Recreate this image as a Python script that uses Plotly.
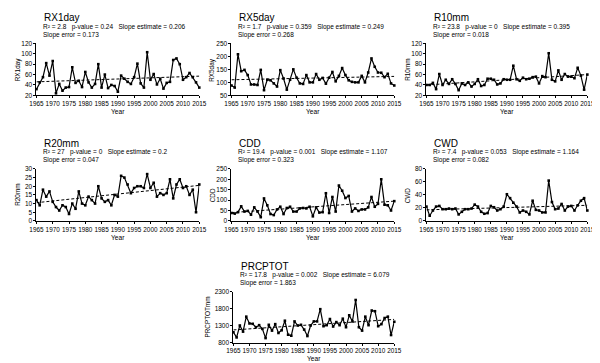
import plotly.graph_objects as go

years = list(range(1965, 2016))

rx1day = [32, 45, 55, 82, 58, 86, 24, 42, 29, 35, 36, 74, 44, 48, 36, 65, 45, 35, 42, 80,
          35, 60, 34, 40, 38, 27, 58, 52, 46, 42, 55, 81, 43, 35, 103, 50, 61, 41, 52, 33,
          44, 46, 88, 91, 80, 50, 55, 63, 55, 45, 35]
rx5day = [88, 80, 208, 143, 148, 128, 92, 92, 90, 148, 70, 110, 108, 96, 84, 147, 115, 72, 110, 150,
          118, 96, 94, 128, 100, 100, 132, 110, 117, 95, 118, 140, 104, 125, 155, 128, 108, 102, 100, 100,
          125, 100, 138, 192, 160, 138, 137, 120, 133, 96, 88]
r10mm = [40, 40, 44, 32, 61, 40, 50, 42, 51, 42, 30, 43, 40, 45, 37, 42, 51, 38, 40, 52,
         52, 50, 41, 43, 51, 50, 50, 77, 51, 48, 54, 51, 52, 55, 56, 43, 57, 55, 101, 50,
         47, 68, 50, 61, 56, 56, 53, 73, 58, 31, 60]
r20mm = [12, 9, 18, 14, 17, 11, 8, 6, 9, 8, 4, 10, 7, 17, 10, 9, 14, 12, 10, 20,
         13, 11, 12, 9, 15, 14, 26, 25, 21, 16, 19, 20, 20, 19, 27, 19, 22, 14, 16, 15,
         16, 24, 13, 21, 24, 19, 20, 15, 18, 5, 21]
cdd = [38, 35, 42, 70, 45, 48, 30, 65, 45, 18, 108, 75, 33, 28, 55, 68, 33, 62, 68, 45,
       45, 60, 62, 60, 68, 22, 65, 40, 42, 133, 38, 115, 45, 170, 145, 110, 120, 45, 60, 48,
       55, 55, 65, 115, 68, 82, 200, 78, 75, 50, 95]
cwd = [22, 8, 16, 22, 23, 18, 18, 19, 18, 19, 10, 14, 18, 18, 19, 25, 22, 14, 11, 12,
       23, 21, 16, 18, 22, 41, 35, 28, 22, 13, 16, 14, 10, 31, 17, 16, 13, 13, 62, 29,
       18, 19, 26, 16, 22, 23, 16, 24, 31, 35, 16]
prcptot = [1100, 950, 1300, 1120, 1560, 1360, 1350, 1250, 1310, 1200, 930, 1320, 1150, 1340, 1080,
           1160, 1440, 1030, 1000, 1420, 1300, 1320, 1180, 990, 1300, 1420, 1420, 1780, 1280, 1310,
           1490, 1270, 1400, 1310, 1500, 1250, 1600, 1420, 2050, 1250, 1150, 1560, 1310, 1740, 1720,
           1280, 1340, 1520, 1560, 1020, 1410]

index_names = ["RX1day", "RX5day", "R10mm", "R20mm", "CDD", "CWD", "PRCPTOT"]
y_titles = ["RX1day", "RX5day", "R10mm", "R20mm", "CDD", "CWD", "PRCPTOTmm"]
series = [rx1day, rx5day, r10mm, r20mm, cdd, cwd, prcptot]
trend_start = [46, 110, 40, 10.5, 40, 17, 1170]
trend_end = [57, 123, 60, 20.5, 95, 24, 1480]
r2 = ["2.8", "1.7", "23.8", "27", "19.4", "7.4", "17.8"]
p_values = ["0.24", "0.359", "0", "0", "0.001", "0.053", "0.002"]
slope_est = ["0.206", "0.249", "0.395", "0.2", "1.107", "1.164", "6.079"]
slope_err = ["0.173", "0.268", "0.018", "0.047", "0.323", "0.082", "1.863"]
y_ranges = [(20, 120), (50, 250), (20, 120), (0, 30), (0, 250), (0, 80), (800, 2300)]
y_dticks = [20, 50, 20, 5, 50, 20, 500]

# layout (pixels): x0, x1, ytop, ybottom
W, H = 600, 363
boxes = [(22, 189, 32, 85), (222, 389, 32, 85), (422, 587, 32, 85),
         (22, 189, 160, 213), (222, 389, 160, 213), (422, 587, 160, 213),
         (224, 389, 285, 337)]
ytitle_x = [3, 202.5, 402.5, 3, 202.5, 402.5, 196.5]

FONT = "Arial, Liberation Sans, sans-serif"
fig = go.Figure()
annotations = []
SP = "\u00a0" * 3

def px_x(v):
    return v / W

def px_y(v):
    return 1 - v / H

for i in range(7):
    x0, x1, yt, yb = boxes[i]
    xa = "x" if i == 0 else f"x{i+1}"
    ya = "y" if i == 0 else f"y{i+1}"
    xk = "xaxis" if i == 0 else f"xaxis{i+1}"
    yk = "yaxis" if i == 0 else f"yaxis{i+1}"
    fig.add_trace(go.Scatter(x=years, y=series[i], mode="lines+markers", xaxis=xa, yaxis=ya,
                             line=dict(color="black", width=1.2),
                             marker=dict(color="black", size=2.6, symbol="square"),
                             cliponaxis=False, showlegend=False, hoverinfo="skip"))
    fig.add_trace(go.Scatter(x=[years[0], years[-1]], y=[trend_start[i], trend_end[i]],
                             mode="lines", xaxis=xa, yaxis=ya,
                             line=dict(color="black", width=1, dash="3px,2px"),
                             showlegend=False, hoverinfo="skip"))
    fig.layout[xk] = dict(domain=[px_x(x0), px_x(x1)], anchor=ya, range=[1965, 2015],
                          tickmode="linear", tick0=1965, dtick=5, showgrid=False, zeroline=False,
                          showline=True, linecolor="black", linewidth=1, ticks="outside",
                          ticklen=2, tickcolor="black", tickwidth=1, tickangle=0,
                          tickfont=dict(size=6.4, color="black", family=FONT))
    fig.layout[yk] = dict(domain=[px_y(yb), px_y(yt)], anchor=xa, range=list(y_ranges[i]),
                          tickmode="linear", tick0=y_ranges[i][0], dtick=y_dticks[i],
                          showgrid=False, zeroline=False, showline=True, linecolor="black",
                          linewidth=1, ticks="outside", ticklen=2, tickcolor="black", tickwidth=1,
                          tickfont=dict(size=6.5, color="black", family=FONT))
    tx = x0 + 6
    annotations.append(dict(text=index_names[i], x=px_x(tx), y=px_y(yt - 26), xref="paper", yref="paper",
                            xanchor="left", yanchor="middle", showarrow=False,
                            font=dict(size=10, color="black", family=FONT)))
    annotations.append(dict(text=f"R² = {r2[i]}{SP}p-value = {p_values[i]}{SP}Slope estimate = {slope_est[i]}",
                            x=px_x(tx - 1), y=px_y(yt - 17), xref="paper", yref="paper",
                            xanchor="left", yanchor="middle", showarrow=False,
                            font=dict(size=6.5, color="black", family=FONT)))
    annotations.append(dict(text=f"Slope error = {slope_err[i]}",
                            x=px_x(tx - 1), y=px_y(yt - 9), xref="paper", yref="paper",
                            xanchor="left", yanchor="middle", showarrow=False,
                            font=dict(size=6.5, color="black", family=FONT)))
    annotations.append(dict(text=y_titles[i], x=px_x(ytitle_x[i]), y=px_y((yt + yb) / 2),
                            xref="paper", yref="paper", textangle=-90,
                            xanchor="center", yanchor="middle", showarrow=False,
                            font=dict(size=6.4, color="black", family=FONT)))
    annotations.append(dict(text="Year", x=px_x((x0 + x1) / 2), y=px_y(yb + 16.5),
                            xref="paper", yref="paper",
                            xanchor="center", yanchor="middle", showarrow=False,
                            font=dict(size=6.6, color="black", family=FONT)))

fig.update_layout(width=W, height=H, margin=dict(l=0, r=0, t=0, b=0),
                  paper_bgcolor="white", plot_bgcolor="white",
                  annotations=annotations, showlegend=False)
fig.write_html("out.html")
